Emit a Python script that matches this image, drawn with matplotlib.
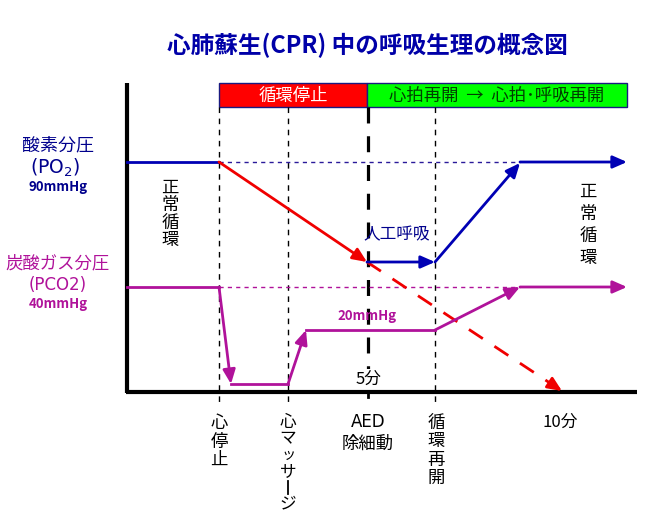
import matplotlib
matplotlib.use("Agg")
import matplotlib.pyplot as plt
from matplotlib.patches import Rectangle

plt.rcParams['font.family'] = ['Noto Sans CJK JP', 'DejaVu Sans']

# ---- data (conceptual diagram, in chart units) ----
title = "心肺蘇生(CPR) 中の呼吸生理の概念図"
event_labels = ["心停止", "心マッサージ", "除細動", "循環再開"]
event_x = [219, 288, 368, 435]
time_labels = ["5分", "10分"]
time_label_x = [369, 560]

phase_labels = ["循環停止", "心拍再開  →  心拍･呼吸再開"]
phase_start = [219, 367]
phase_end = [367, 627]

# PO2 path (normal -> fall -> artificial ventilation -> recovery)
po2_normal_x = [127, 219]
po2_normal_y = [162, 162]
po2_fall_x = [219, 367]
po2_fall_y = [162, 262]
po2_fall_cont_x = [367, 562]
po2_fall_cont_y = [262, 391]
po2_vent_x = [367, 435]
po2_vent_y = [262, 262]
po2_rise_x = [435, 520]
po2_rise_y = [262, 163]
po2_recov_x = [520, 627]
po2_recov_y = [162, 162]

# PCO2 path
pco2_normal_x = [127, 219]
pco2_normal_y = [287, 287]
pco2_drop_x = [219, 231]
pco2_drop_y = [287, 384]
pco2_low_x = [231, 288]
pco2_low_y = [384, 384]
pco2_up_x = [288, 306]
pco2_up_y = [384, 330]
pco2_mid_x = [306, 435]
pco2_mid_y = [330, 330]
pco2_rise_x = [435, 520]
pco2_rise_y = [330, 287]
pco2_recov_x = [520, 627]
pco2_recov_y = [287, 287]

ref_line_x = [219, 520]
po2_ref_y = 162
pco2_ref_y = 287

BLUE = '#0000b4'
LBLUE = '#00008c'
MAG = '#b0129a'
RED = '#f00000'

fig = plt.figure(figsize=(6.65, 5.25), dpi=100)
ax = fig.add_axes([0, 0, 1, 1])
ax.set_xlim(0, 665)
ax.set_ylim(525, 0)
ax.axis('off')

# axes lines
ax.plot([127, 127], [83, 393], color='black', lw=3, solid_capstyle='butt')
ax.plot([126, 637], [392, 392], color='black', lw=3, solid_capstyle='butt')
ax.plot([368, 368], [392, 397], color='black', lw=2)

# vertical event lines
for x in event_x:
    if x == 368:
        ax.plot([x, x], [107, 392], color='black', lw=2.3, dashes=(5, 4))
    else:
        ax.plot([x, x], [107, 405], color='black', lw=1, dashes=(4, 4))

# phase bar
colors = ['#ff0000', '#00ff00']
tcolors = ['white', '#004000']
for s, e, lab, c, tc in zip(phase_start, phase_end, phase_labels, colors, tcolors):
    ax.add_patch(Rectangle((s, 83), e - s, 24, facecolor=c, edgecolor='#1a1a80', lw=1))
    ax.text((s + e) / 2, 96, lab, color=tc, fontsize=12.5, ha='center', va='center')

# reference dashed lines
ax.plot(ref_line_x, [po2_ref_y] * 2, color='#2a1a9a', lw=1, dashes=(3, 3))
ax.plot(ref_line_x, [pco2_ref_y] * 2, color=MAG, lw=1, dashes=(3, 3))


def arrow(xs, ys, color, lw=2):
    ax.annotate('', xy=(xs[1], ys[1]), xytext=(xs[0], ys[0]),
                arrowprops=dict(arrowstyle='-|>,head_length=0.5,head_width=0.22',
                                color=color, lw=lw,
                                mutation_scale=17, shrinkA=0, shrinkB=0))


# PO2
ax.plot(po2_normal_x, po2_normal_y, color=BLUE, lw=2)
arrow(po2_fall_x, po2_fall_y, RED)
ax.plot(po2_fall_cont_x, po2_fall_cont_y, color=RED, lw=2, dashes=(6, 5))
fx, fy = po2_fall_cont_x, po2_fall_cont_y
arrow([fx[0] + (fx[1] - fx[0]) * 0.95, fx[1]], [fy[0] + (fy[1] - fy[0]) * 0.95, fy[1]], RED)
arrow(po2_vent_x, po2_vent_y, BLUE)
arrow(po2_rise_x, po2_rise_y, BLUE)
arrow(po2_recov_x, po2_recov_y, BLUE)

# PCO2
ax.plot(pco2_normal_x, pco2_normal_y, color=MAG, lw=2)
arrow(pco2_drop_x, pco2_drop_y, MAG)
ax.plot(pco2_low_x, pco2_low_y, color=MAG, lw=2)
arrow(pco2_up_x, pco2_up_y, MAG)
ax.plot(pco2_mid_x, pco2_mid_y, color=MAG, lw=2)
arrow(pco2_rise_x, pco2_rise_y, MAG)
arrow(pco2_recov_x, pco2_recov_y, MAG)

# title
ax.text(367, 45, title, color='#0000a8', fontsize=17, fontweight='bold', ha='center', va='center')

# left labels
ax.text(58, 145, "酸素分圧", color=LBLUE, fontsize=13, ha='center', va='center')
ax.text(55, 168, "(PO$_2$)", color=LBLUE, fontsize=13.5, ha='center', va='center',
        family='DejaVu Sans')
ax.text(58, 187, "90mmHg", color=LBLUE, fontsize=9.5, fontweight='bold', ha='center', va='center')
ax.text(58, 263, "炭酸ガス分圧", color=MAG, fontsize=12.5, ha='center', va='center')
ax.text(58, 285, "(PCO2)", color=MAG, fontsize=12, ha='center', va='center', family='DejaVu Sans')
ax.text(58, 304, "40mmHg", color=MAG, fontsize=9.5, fontweight='bold', ha='center', va='center')


def vtext(x, ytop, s, pitch, size=12, color='black'):
    for i, ch in enumerate(s):
        y = ytop + pitch * i + pitch / 2
        if ch == 'ー':
            ax.plot([x, x], [y - pitch * 0.38, y + pitch * 0.38], color=color, lw=1.3)
        elif ch == 'ッ':
            ax.text(x + 1, y, ch, fontsize=size * 0.85, color=color, ha='center', va='center')
        else:
            ax.text(x, y, ch, fontsize=size, color=color, ha='center', va='center')


vtext(170, 179, "正常循環", 17.5, 12.5)
vtext(588, 181, "正常循環", 22, 12.5)

ax.text(397, 235, "人工呼吸", color=LBLUE, fontsize=12, ha='center', va='center')
ax.text(367, 316, "20mmHg", color=MAG, fontsize=9.5, fontweight='bold', ha='center', va='center')
ax.text(time_label_x[0], 379, time_labels[0], fontsize=12, ha='center', va='center',
        bbox=dict(facecolor='white', edgecolor='none', pad=1))
ax.text(time_label_x[1], 422, time_labels[1], fontsize=12, ha='center', va='center')

# bottom event labels
vtext(event_x[0], 414, event_labels[0], 18.5, 12.5)
vtext(event_x[1], 414, event_labels[1], 16.3, 12)
ax.text(event_x[2], 422, "AED", fontsize=12, ha='center', va='center', family='DejaVu Sans')
ax.text(event_x[2], 444, event_labels[2], fontsize=12.5, ha='center', va='center')
vtext(event_x[3] + 1, 414, event_labels[3], 18.3, 12.5)

fig.savefig('out.png', dpi=100)
